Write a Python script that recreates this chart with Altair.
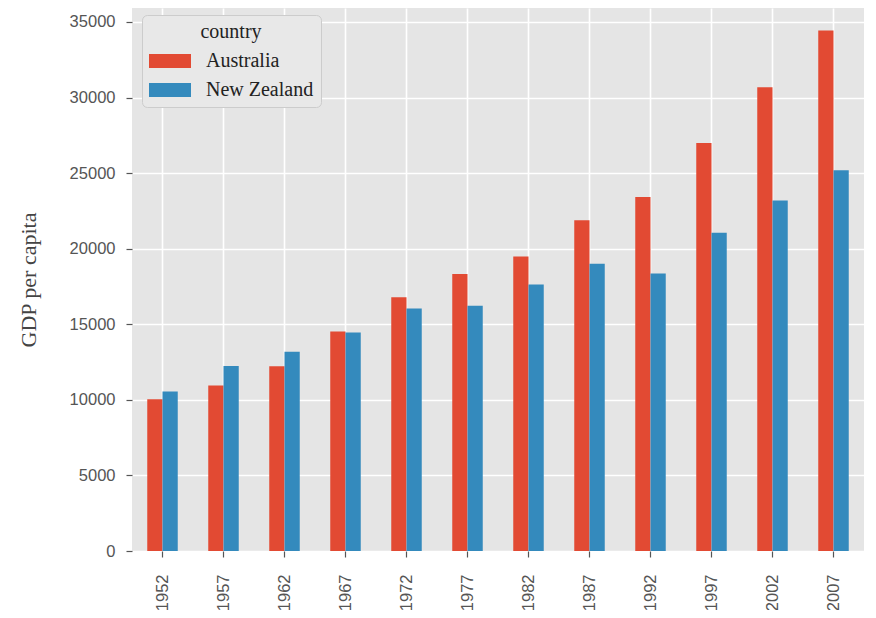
import altair as alt
import pandas as pd

years = [1952, 1957, 1962, 1967, 1972, 1977, 1982, 1987, 1992, 1997, 2002, 2007]
australia = [10039.60, 10949.65, 12217.23, 14526.12, 16788.63, 18334.20,
             19477.01, 21888.89, 23424.77, 26997.94, 30687.75, 34435.37]
new_zealand = [10556.58, 12247.40, 13175.68, 14463.92, 16046.04, 16233.72,
               17632.41, 19007.19, 18363.32, 21050.41, 23189.80, 25185.01]
countries = ["Australia", "New Zealand"]
colors = ["#E24A33", "#348ABD"]
y_ticks = [0, 5000, 10000, 15000, 20000, 25000, 30000, 35000]

df = pd.DataFrame({
    "year": [str(y) for y in years] * 2,
    "country": ["Australia"] * len(years) + ["New Zealand"] * len(years),
    "gdp": australia + new_zealand,
})

serif = "Liberation Serif"
sans = "Liberation Sans"

chart = alt.Chart(df).mark_bar(strokeWidth=0).encode(
    x=alt.X("year:N", sort=None, title=None,
            scale=alt.Scale(paddingInner=0.5, paddingOuter=0.25),
            axis=alt.Axis(labelAngle=-90, grid=True, bandPosition=0.5,
                          labelPadding=17, tickSize=6)),
    xOffset=alt.XOffset("country:N", sort=countries,
                        scale=alt.Scale(paddingInner=0, paddingOuter=0)),
    y=alt.Y("gdp:Q", title="GDP per capita",
            scale=alt.Scale(domain=[0, 35926], nice=False, zero=True),
            axis=alt.Axis(values=y_ticks, format="d", grid=True,
                          labelPadding=11, tickSize=6,
                          titleFont=serif, titleFontSize=22,
                          titleFontWeight="normal", titleColor="#444",
                          titleX=-104, titleBaseline="middle")),
    color=alt.Color("country:N", sort=countries,
                    scale=alt.Scale(domain=countries, range=colors),
                    legend=alt.Legend(
                        title="country", orient="none", legendX=10, legendY=7,
                        titleFont=serif, titleFontSize=20, titleFontWeight="normal",
                        titleColor="#222", titleAnchor="middle", titlePadding=9,
                        labelFont=serif, labelFontSize=20, labelColor="#222",
                        labelExpr="datum.label + '\u00a0\u00a0\u00a0'",
                        labelOffset=26, symbolOffset=11,
                        symbolType="M-3,-1L3,-1L3,1L-3,1Z",
                        symbolSize=196, symbolStrokeWidth=0, symbolOpacity=1,
                        fillColor="#E8E8E8", strokeColor="#CCCCCC",
                        cornerRadius=5, padding=7, rowPadding=9)),
).properties(
    width=732, height=543,
    autosize=alt.AutoSizeParams(type="none"),
    padding={"left": 124, "top": 0, "right": 4, "bottom": 59},
    background="white",
).configure_view(
    fill="#E5E5E5", stroke=None
).configure_axis(
    gridColor="white", gridWidth=1.6, gridOpacity=1, domain=False,
    tickColor="#555", tickWidth=1.2, labelColor="#555",
    labelFont=sans, labelFontSize=16.5,
)

chart.save("out.html", embed_options={"renderer": "svg", "actions": False})
